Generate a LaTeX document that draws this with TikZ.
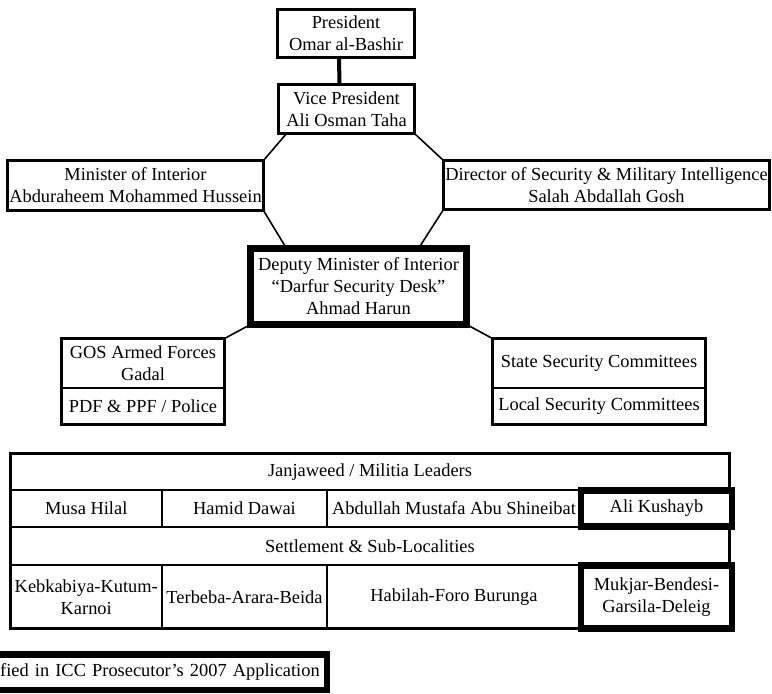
\documentclass[tikz,border=0pt]{standalone}
\usepackage{fontspec}
\setmainfont{Liberation Serif}
\usetikzlibrary{positioning}

\begin{document}
\begin{tikzpicture}[x=1pt,y=-1pt,line width=1.6pt,
 font=\fontsize{18.4}{22}\selectfont,
 office node/.style={draw, line width=2.6pt, align=center, inner sep=1pt, outer sep=0pt},
 marked node/.style={office node, line width=6.5pt},
 cell node/.style={office node, minimum height=37pt}]
  \useasboundingbox (0,0) rectangle (772,694);
  \node[office node, minimum width=137pt, minimum height=48pt] (pres) at (346,33.5) {President\\Omar al-Bashir};
  \node[office node, minimum width=136pt, minimum height=49pt] (vp) at (346.5,109) {Vice President\\Ali Osman Taha};
  \node[office node, minimum width=256pt, minimum height=50pt] (min) at (135.5,185.5) {Minister of Interior\\Abduraheem Mohammed Hussein};
  \node[office node, minimum width=326pt, minimum height=49pt] (dir) at (606.5,185) {Director of Security \& Military Intelligence\\Salah Abdallah Gosh};
  \node[marked node, minimum width=216pt, minimum height=76pt] (dep) at (358.5,286.5) {Deputy Minister of Interior\\``Darfur Security Desk''\\Ahmad Harun};
  \node[office node, minimum width=163pt, minimum height=49.5pt] (gos) at (143,363.25) {GOS Armed Forces\\Gadal};
  \node[office node, minimum width=163pt, minimum height=36.5pt, below=0pt of gos] (pdf) {PDF \& PPF / Police};
  \node[office node, minimum width=213pt, minimum height=49.5pt] (state) at (599,363.25) {State Security Committees};
  \node[office node, minimum width=213pt, minimum height=36.5pt, below=0pt of state] (local) {Local Security Committees};

  \node[cell node, minimum width=719pt, minimum height=36.5pt] (jan) at (370,471.75) {Janjaweed / Militia Leaders};
  \node[cell node, minimum width=151.5pt, below right=0pt and 0pt of jan.south west] (musa) {Musa Hilal};
  \node[cell node, minimum width=165pt, right=0pt of musa] (hamid) {Hamid Dawai};
  \node[cell node, minimum width=254pt, right=0pt of hamid] (abdullah) {Abdullah Mustafa Abu Shineibat};
  \node[marked node, minimum width=151pt, minimum height=36pt, right=0pt of abdullah] (ali) {Ali Kushayb};
  \node[cell node, minimum width=719pt, minimum height=38pt, below right=0pt and 0pt of musa.south west] (settle) {Settlement \& Sub-Localities};
  \node[cell node, minimum width=151.5pt, minimum height=63.5pt, below right=0pt and 0pt of settle.south west] (kebkabiya) {Kebkabiya-Kutum-\\Karnoi};
  \node[cell node, minimum width=165pt, minimum height=63.5pt, right=0pt of kebkabiya] (terbeba) {Terbeba-Arara-Beida};
  \node[cell node, minimum width=254pt, minimum height=63.5pt, right=0pt of terbeba] (habilah) {Habilah-Foro Burunga};
  \node[marked node, minimum width=151pt, minimum height=63pt, right=0pt of habilah] (mukjar) {Mukjar-Bendesi-\\Garsila-Deleig};

  \node[marked node, anchor=east, minimum height=35.5pt, inner xsep=7pt, text width=344pt, align=right] (key) at (326.75,672) {fied in ICC Prosecutor's 2007 Application};

  \coordinate (vpl) at ([xshift=8pt]vp.south west);
  \coordinate (depl) at ([xshift=36pt]dep.north west);
  \coordinate (depr) at ([xshift=-48pt]dep.north east);
  \draw[line width=4pt] ([xshift=-7pt]pres.south) -- ([xshift=-7pt]vp.north);
  \foreach \s/\t in {vpl/min.north east, min.south east/depl, dir.south west/depr,
   dir.north west/vp.south east, dep.south west/gos.north east, dep.south east/state.north west} {
   \draw (\s) -- (\t);}
\end{tikzpicture}
\end{document}
